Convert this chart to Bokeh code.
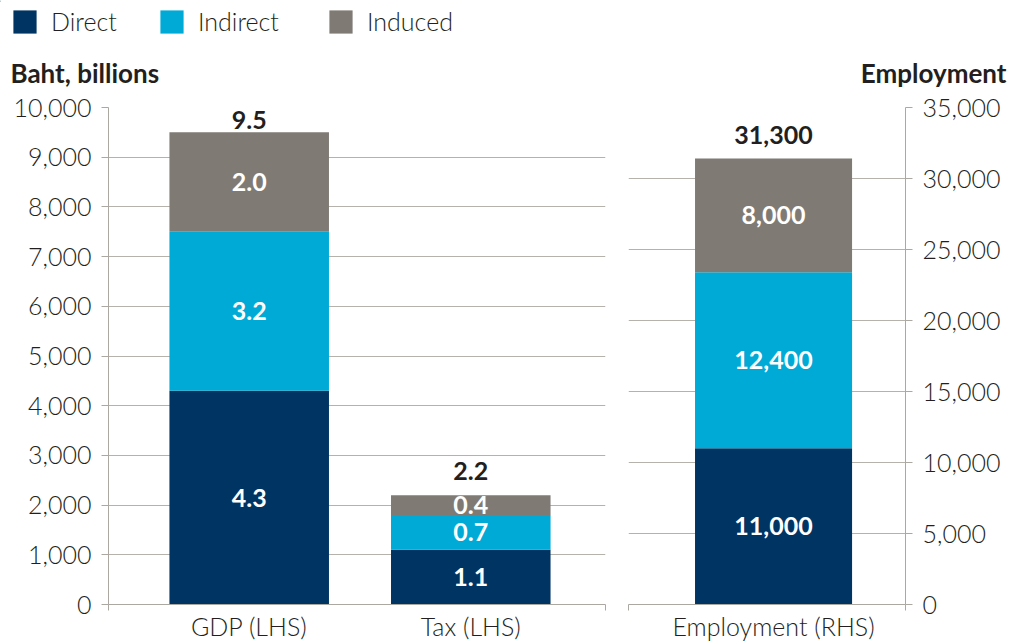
from bokeh.plotting import figure
from bokeh.models import (ColumnDataSource, FixedTicker, SingleIntervalTicker,
                          NumeralTickFormatter, Legend, LegendItem, Range1d)
from bokeh.layouts import row, column
from bokeh.embed import file_html
from bokeh.resources import INLINE
from bokeh.core.properties import value

# ---------------- data ----------------
series = ["Direct", "Indirect", "Induced"]

left_categories = ["GDP (LHS)", "Tax (LHS)"]
left_direct = [4300, 1100]
left_indirect = [3200, 700]
left_induced = [2000, 400]
left_totals = ["9.5", "2.2"]

right_categories = ["Employment (RHS)"]
right_direct = [11000]
right_indirect = [12400]
right_induced = [8000]
right_totals = ["31,300"]

left_title = "Baht, billions"
right_title = "Employment"

# ---------------- style ----------------
COLORS = ["#003463", "#00AAD7", "#7F7B74"]
GRID = "#B5B2AC"
AXIS = "#ABA8A2"
TXT = "#231F20"
LIGHT = "Lato Light"
BOLD = "Lato"
FS = "25px"
HEAD_H = 90
HEAD_W = 1011
TOP = 17
FRAME_H = 500
BOTTOM = 36
HEIGHT = TOP + FRAME_H + BOTTOM
L_XR = (-0.635, 1.608)
R_XR = (-0.665, 0.605)
BAR_W = 0.72


def build(cats, direct, indirect, induced, totals, xr, ymax, interval,
          width, bl, br, yloc, seg_fmt):
    p = figure(width=width, height=HEIGHT, x_range=Range1d(*xr),
               y_range=Range1d(0, ymax), output_backend="svg",
               toolbar_location=None, y_axis_location=yloc,
               min_border_left=bl, min_border_right=br,
               min_border_top=TOP, min_border_bottom=BOTTOM)
    p.outline_line_color = None
    p.xgrid.visible = False
    p.ygrid.grid_line_color = GRID
    p.ygrid.grid_line_width = 1

    xs = list(range(len(cats)))
    src = ColumnDataSource(dict(x=xs, Direct=direct, Indirect=indirect,
                                Induced=induced))
    p.vbar_stack(series, x="x", width=BAR_W, color=COLORS,
                 line_color=None, source=src)

    # segment labels
    lx, ly, lt = [], [], []
    for i in range(len(cats)):
        base = 0
        for vals in (direct, indirect, induced):
            v = vals[i]
            lx.append(xs[i])
            ly.append(base + v / 2)
            lt.append(seg_fmt(v))
            base += v
    p.text(x=lx, y=ly, text=lt, text_align="center", text_baseline="middle",
           text_color="white", text_font=value(BOLD), text_font_style="bold",
           text_font_size=FS)

    # totals (centre of text ~24px above bar top, kept inside the frame)
    unit = ymax / FRAME_H
    tops = [a + b + c for a, b, c in zip(direct, indirect, induced)]
    ty = [min(t + 24 * unit, ymax - 12.5 * unit) for t in tops]
    p.text(x=xs, y=ty, text=totals, text_align="center",
           text_baseline="middle", text_color=TXT, text_font=value(BOLD),
           text_font_style="bold", text_font_size=FS)

    # x axis
    xa = p.xaxis[0]
    xa.ticker = FixedTicker(ticks=xs, minor_ticks=[xr[0], xr[1]])
    xa.major_label_overrides = {x: c for x, c in zip(xs, cats)}
    xa.major_tick_out = 0
    xa.major_tick_in = 0
    xa.minor_tick_out = 6
    xa.minor_tick_in = 0
    xa.minor_tick_line_color = AXIS
    xa.axis_line_color = AXIS
    xa.major_label_text_font = LIGHT
    xa.major_label_text_font_size = FS
    xa.major_label_text_color = TXT
    xa.major_label_standoff = 0

    # y axis
    ya = p.yaxis[0]
    ya.ticker = SingleIntervalTicker(interval=interval, num_minor_ticks=0)
    ya.formatter = NumeralTickFormatter(format="0,0")
    ya.major_tick_out = 7
    ya.major_tick_in = 0
    ya.minor_tick_line_color = None
    ya.axis_line_color = AXIS
    ya.major_tick_line_color = AXIS
    ya.major_label_text_font = LIGHT
    ya.major_label_text_font_size = FS
    ya.major_label_text_color = TXT
    ya.major_label_standoff = 10
    return p


p1 = build(left_categories, left_direct, left_indirect, left_induced,
           left_totals, L_XR, 10000, 1000, 620, 108, 15, "left",
           lambda v: f"{v / 1000:.1f}")
p2 = build(right_categories, right_direct, right_indirect, right_induced,
           right_totals, R_XR, 35000, 5000, 391, 8, 106, "right",
           lambda v: f"{v:,}")

# ---------------- header: legend + axis titles ----------------
head = figure(width=HEAD_W, height=HEAD_H, x_range=Range1d(0, HEAD_W),
              y_range=Range1d(HEAD_H, 0), output_backend="svg",
              toolbar_location=None, x_axis_type=None, y_axis_type=None,
              min_border=0)
head.outline_line_color = None
head.xgrid.visible = False
head.ygrid.visible = False

legend_x = [10, 157, 326]
for name, col, lxp in zip(series, COLORS, legend_x):
    # off-screen swatch source so the legend has a glyph to draw
    r = head.vbar(x=[-1000], top=[1], width=1, color=col, line_color=None)
    lg = Legend(items=[LegendItem(label=name, renderers=[r])],
                location=(lxp, HEAD_H - 36), orientation="horizontal",
                glyph_width=29, glyph_height=29, label_height=29,
                label_text_font=LIGHT, label_text_font_size=FS,
                label_text_color=TXT, label_standoff=12,
                padding=0, margin=0, border_line_color=None,
                background_fill_alpha=0)
    head.add_layout(lg)

head.text(x=[10], y=[72], text=[left_title], text_align="left",
          text_baseline="middle", text_color=TXT, text_font=value(BOLD),
          text_font_style="bold", text_font_size="26px")
head.text(x=[1006], y=[72], text=[right_title], text_align="right",
          text_baseline="middle", text_color=TXT, text_font=value(BOLD),
          text_font_style="bold", text_font_size="26px")

layout = column(head, row(p1, p2), spacing=0)
open("out.html", "w").write(file_html(layout, INLINE))
